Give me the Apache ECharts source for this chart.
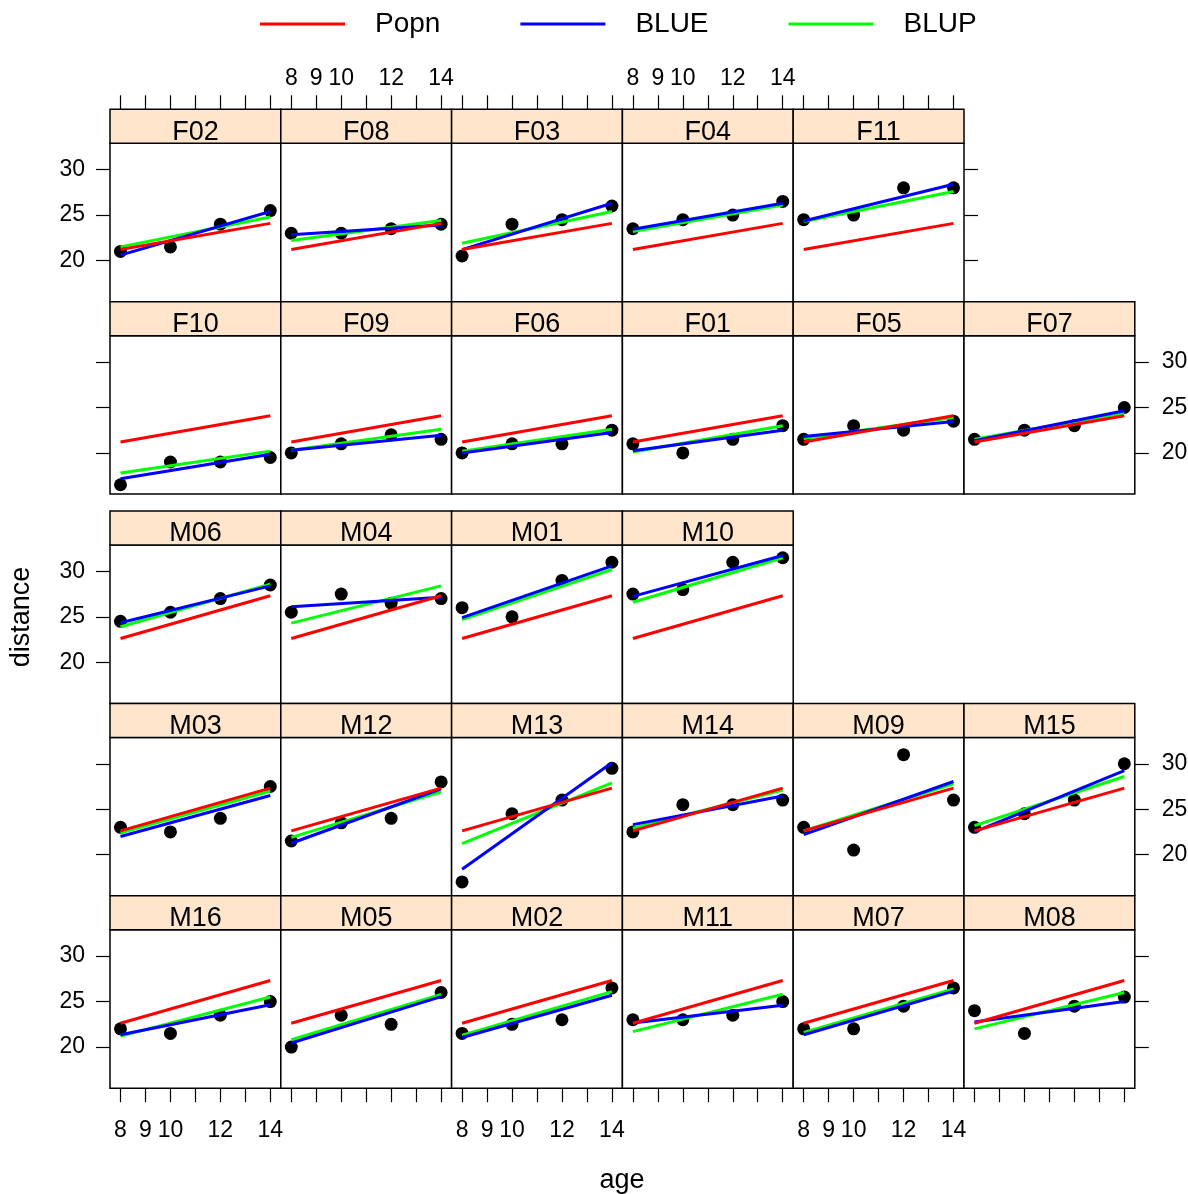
<!DOCTYPE html>
<html><head><meta charset="utf-8">
<script src="https://cdn.jsdelivr.net/npm/echarts@6/dist/echarts.min.js"></script>
<style>html,body{margin:0;padding:0;background:#fff}#c{width:1188px;height:1194px}</style>
</head><body><div id="c"></div>
<script>
// ---------- data ----------
const ages = [8, 10, 12, 14];
const fitAges = [8, 14];
const rowSizes = [5, 6, 4, 6, 6];
const subjects = ['F02','F08','F03','F04','F11',
                  'F10','F09','F06','F01','F05','F07',
                  'M06','M04','M01','M10',
                  'M03','M12','M13','M14','M09','M15',
                  'M16','M05','M02','M11','M07','M08'];
const distances = [
  [21,21.5,24,25.5],[23,23,23.5,24],[20.5,24,24.5,26],[23.5,24.5,25,26.5],[24.5,25,28,28],
  [16.5,19,19,19.5],[20,21,22,21.5],[20,21,21,22.5],[21,20,21.5,23],[21.5,23,22.5,23.5],[21.5,22.5,23,25],
  [24.5,25.5,27,28.5],[25.5,27.5,26.5,27],[26,25,29,31],[27.5,28,31,31.5],
  [23,22.5,24,27.5],[21.5,23.5,24,28],[17,24.5,26,29.5],[22.5,25.5,25.5,26],[23,20.5,31,26],[23,24.5,26,30],
  [22,21.5,23.5,25],[20,23.5,22.5,26],[21.5,22.5,23,26.5],[23,23,23.5,25],[22,22,24.5,26.5],[24,21.5,24.5,25.5]
];
// fitted lines: values at age 8 and age 14
const blueFit = [
  [20.6,25.4],[22.85,23.9],[21.2,26.3],[23.45,26.3],[24.35,28.4],
  [17.15,19.85],[20.3,21.95],[20.0,22.25],[20.25,22.5],[21.8,23.45],[21.35,24.65],
  [24.35,28.4],[26.1,27.15],[24.9,30.6],[27.25,31.75],
  [22.0,26.5],[21.25,27.25],[18.4,30.1],[23.3,26.45],[22.2,28.05],[22.5,29.25],
  [21.35,24.65],[20.45,25.55],[21.05,25.7],[22.65,24.6],[21.35,26.15],[22.75,25.0]
];
const blupFit = [
  [21.5,24.8],[22.2,24.4],[21.9,25.4],[23.2,26.1],[24.3,27.6],
  [17.8,20.2],[20.3,22.6],[20.2,22.6],[20.1,23.0],[21.6,23.9],[21.5,24.4],
  [23.9,28.6],[24.3,28.4],[24.7,30.2],[26.6,31.5],
  [22.4,27.0],[21.9,26.9],[21.2,27.9],[22.9,27.1],[22.6,27.8],[23.2,28.6],
  [21.2,25.5],[20.8,25.8],[21.3,26.1],[21.7,25.8],[21.6,26.4],[22.0,26.0]
];
const popnFemale = [21.21, 24.09];
const popnMale = [22.61, 27.32];
const xTicks = [8, 9, 10, 11, 12, 13, 14];
const xTickLabels = [8, 9, 10, 12, 14];
const yTicks = [20, 25, 30];
const legendNames = ['Popn', 'BLUE', 'BLUP'];

// ---------- layout / style ----------
const FONT = '"Liberation Sans", Arial, Helvetica, sans-serif';
const X0 = 110, CW = 170.8;
const stripTops = [109.3, 301.7, 511, 703.4, 895.8];
const SH = 34, PH = 158.4;
const XMIN = 7.58, XMAX = 14.42, YMIN = 15.47, YMAX = 32.9;
const RED = '#FF0000', BLUE = '#0000FF', GREEN = '#00FF00';
const TICKFS = 23;

const grids = [], xAxes = [], yAxes = [], series = [], graphics = [];
let k = 0;
rowSizes.forEach((n, r) => {
  for (let c = 0; c < n; c++, k++) {
    const name = subjects[k];
    const left = X0 + c * CW, top = stripTops[r] + SH;
    grids.push({left, top, width: CW, height: PH, show: true, borderColor: '#000', borderWidth: 1.5,
      backgroundColor: '#fff', containLabel: false, outerBoundsMode: 'none'});
    const g = grids.length - 1;
    const isTop = r === 0, isBottom = r === rowSizes.length - 1;
    const xLab = (isTop && c % 2 === 1) || (isBottom && c % 2 === 0);
    const xi = xAxes.length;
    xAxes.push({gridIndex: g, type: 'value', min: XMIN, max: XMAX,
      position: isTop ? 'top' : 'bottom', offset: isTop ? SH : 0,
      axisLine: {show: false}, splitLine: {show: false},
      axisTick: {show: isTop || isBottom, length: 14, inside: false, customValues: xTicks,
        lineStyle: {color: '#000', width: 1.2}},
      axisLabel: {show: xLab, customValues: xTickLabels, margin: isTop ? 19 : 31,
        fontSize: TICKFS, color: '#000', fontFamily: FONT}});
    const yi = yAxes.length;
    yAxes.push({gridIndex: g, type: 'value', min: YMIN, max: YMAX, position: 'left',
      axisLine: {show: false}, splitLine: {show: false},
      axisTick: {show: c === 0, length: 14, customValues: yTicks, lineStyle: {color: '#000', width: 1.2}},
      axisLabel: {show: c === 0 && r % 2 === 0, customValues: yTicks, margin: 25,
        fontSize: TICKFS, color: '#000', fontFamily: FONT}});
    if (c === n - 1 && r !== 2) {
      yAxes.push({gridIndex: g, type: 'value', min: YMIN, max: YMAX, position: 'right',
        axisLine: {show: false}, splitLine: {show: false},
        axisTick: {show: true, length: 14, customValues: yTicks, lineStyle: {color: '#000', width: 1.2}},
        axisLabel: {show: r % 2 === 1, customValues: yTicks, margin: 27,
          fontSize: TICKFS, color: '#000', fontFamily: FONT}});
    }
    const popn = name[0] === 'F' ? popnFemale : popnMale;
    const line = (nm, col, vals) => ({name: nm, type: 'line', xAxisIndex: xi, yAxisIndex: yi,
      data: fitAges.map((a, i) => [a, vals[i]]), symbol: 'none', color: col,
      lineStyle: {color: col, width: 3}, silent: true});
    series.push({name: 'pts', type: 'scatter', xAxisIndex: xi, yAxisIndex: yi,
      data: ages.map((a, i) => [a, distances[k][i]]), symbol: 'circle', symbolSize: 13,
      itemStyle: {color: '#000', opacity: 1}, silent: true});
    series.push(line('BLUP', GREEN, blupFit[k]));
    series.push(line('BLUE', BLUE, blueFit[k]));
    series.push(line('Popn', RED, popn));
    // strip
    graphics.push({type: 'rect', shape: {x: left, y: stripTops[r], width: CW, height: SH},
      style: {fill: '#FFE5CC', stroke: '#000', lineWidth: 1.5}, z: 10});
    graphics.push({type: 'text', x: left + CW / 2, y: stripTops[r] + 23, z: 11,
      style: {text: name, align: 'center', verticalAlign: 'middle', fill: '#000',
        font: '27px ' + FONT}});
  }
});
graphics.push({type: 'text', x: 622, y: 1181, style: {text: 'age', align: 'center', verticalAlign: 'middle',
  fill: '#000', font: '27px ' + FONT}});
graphics.push({type: 'text', x: 22, y: 617, rotation: Math.PI / 2, style: {text: 'distance', align: 'center',
  verticalAlign: 'middle', fill: '#000', font: '27px ' + FONT}});

const chart = echarts.init(document.getElementById('c'), null, {renderer: 'canvas'});
chart.setOption({
  animation: false,
  backgroundColor: '#fff',
  legend: {data: legendNames, top: 10, left: 260, padding: 0, icon: 'rect', itemWidth: 85, itemHeight: 3, itemGap: 80,
    textStyle: {fontSize: 28, fontFamily: FONT, color: '#000', padding: [0, 0, 0, 25]}},
  grid: grids, xAxis: xAxes, yAxis: yAxes, series: series, graphic: graphics
});
</script></body></html>
